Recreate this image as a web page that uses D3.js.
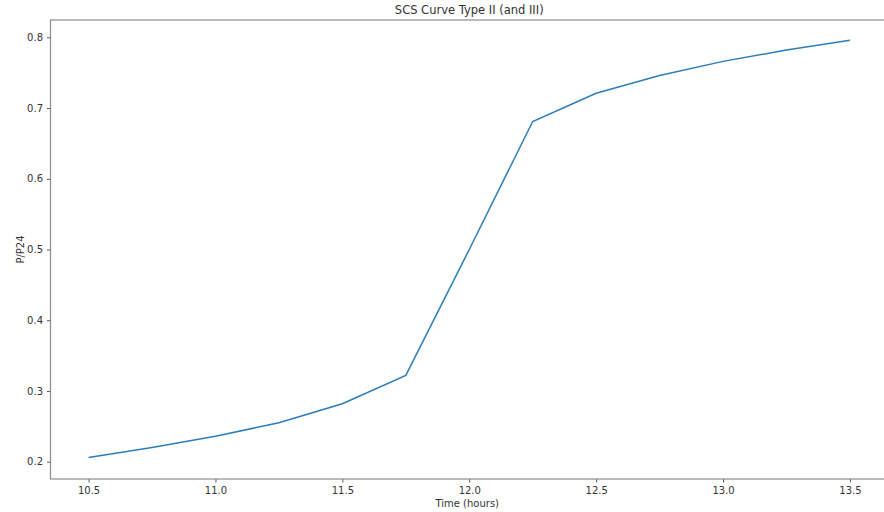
<!DOCTYPE html>
<html>
<head>
<meta charset="utf-8">
<script src="https://cdn.jsdelivr.net/npm/d3@7"></script>
<style>
body{margin:0;background:#fff;}
text{font-family:"DejaVu Sans",sans-serif;fill:#333;}
</style>
</head>
<body>
<script>
// data
var hours = [10.5, 10.75, 11.0, 11.25, 11.5, 11.75, 12.0, 12.25, 12.5, 12.75, 13.0, 13.25, 13.5];
var ratio = [0.206, 0.220, 0.236, 0.255, 0.282, 0.322, 0.5, 0.681, 0.721, 0.746, 0.766, 0.782, 0.796];
var xTicks = [10.5, 11.0, 11.5, 12.0, 12.5, 13.0, 13.5];
var yTicks = [0.2, 0.3, 0.4, 0.5, 0.6, 0.7, 0.8];

var W = 884, H = 512;
var padL = 50.5, padT = 20, padR = 888, padB = 479;

var svg = d3.select("body").append("svg")
    .attr("width", W)
    .attr("height", H);

var x = d3.scaleLinear().domain([10.35, 13.65]).range([padL, padR]);
var y = d3.scaleLinear().domain([0.1755, 0.8245]).range([padB, padT]);

svg.append("g")
    .attr("transform", "translate(0," + padB + ")")
    .call(d3.axisBottom(x).tickValues(xTicks).tickFormat(d3.format(".1f")).tickSize(3.5).tickPadding(4))
    .call(function(g){ g.select(".domain").remove(); });

svg.append("g")
    .attr("transform", "translate(" + padL + ",0)")
    .call(d3.axisLeft(y).tickValues(yTicks).tickFormat(d3.format(".1f")).tickSize(3.5).tickPadding(4))
    .call(function(g){ g.select(".domain").remove(); });

svg.selectAll(".tick line").attr("stroke", "#555");
svg.selectAll(".tick text").attr("font-size", 10).style("fill", "#333");

// spines
svg.append("rect")
    .attr("x", padL).attr("y", padT)
    .attr("width", padR - padL).attr("height", padB - padT)
    .attr("fill", "none")
    .attr("stroke", "#8c8c8c")
    .attr("stroke-width", 1.2);

var line = d3.line()
    .x(function(d, i){ return x(hours[i]); })
    .y(function(d){ return y(d); });

svg.append("path")
    .datum(ratio)
    .attr("d", line)
    .attr("fill", "none")
    .attr("stroke", "#2a7db8")
    .attr("stroke-width", 1.5);

svg.append("text")
    .attr("x", (padL + padR) / 2)
    .attr("y", 14)
    .attr("text-anchor", "middle")
    .attr("font-size", 11.5)
    .text("SCS Curve Type II (and III)");

svg.append("text")
    .attr("x", (padL + padR) / 2 - 2)
    .attr("y", 507)
    .attr("text-anchor", "middle")
    .attr("font-size", 10)
    .text("Time (hours)");

svg.append("text")
    .attr("transform", "translate(24," + ((padT + padB) / 2) + ") rotate(-90)")
    .attr("text-anchor", "middle")
    .attr("font-size", 10)
    .text("P/P24");
</script>
</body>
</html>
